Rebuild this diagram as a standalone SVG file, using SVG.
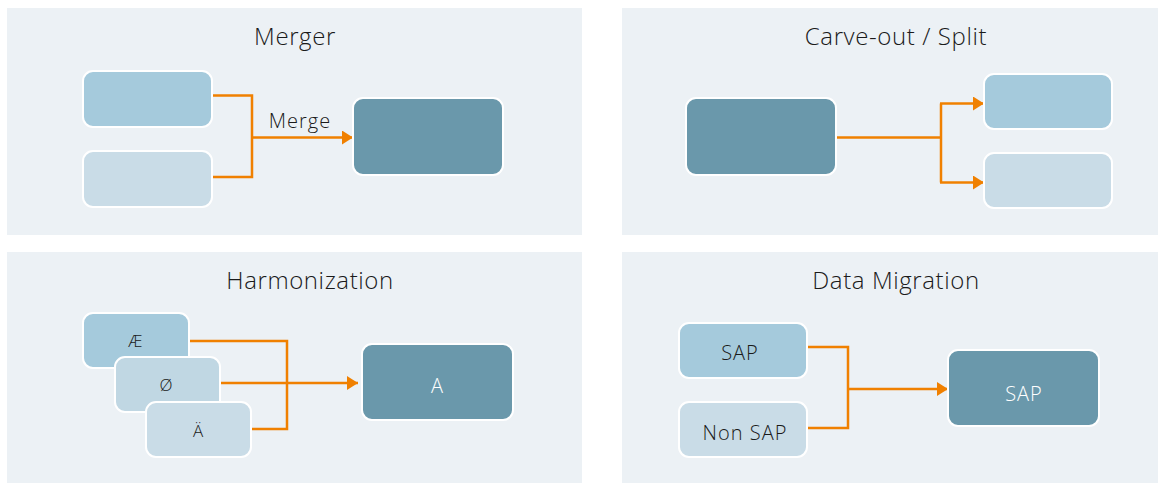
<svg xmlns="http://www.w3.org/2000/svg" width="1158" height="483" viewBox="0 0 1158 483">
<defs>
<style>
.panel{fill:#ECF1F5}
.box{stroke:#ffffff;stroke-width:2}
.c1{fill:#A5CADC}
.c2{fill:#C9DCE7}
.c2b{fill:#C0D7E3}
.c3{fill:#6A98AB}
.title{font-family:"Open Sans","Liberation Sans",sans-serif;font-size:24px;font-weight:300;letter-spacing:0.6px;fill:#1a1a1a;text-anchor:middle}
.lbl{font-family:"Open Sans","Liberation Sans",sans-serif;font-size:20px;font-weight:300;letter-spacing:1px;fill:#1a1a1a;text-anchor:middle}
.lblw{font-family:"Open Sans","Liberation Sans",sans-serif;font-size:20px;font-weight:300;letter-spacing:1px;fill:#ffffff;text-anchor:middle}
.sm{font-size:17px;letter-spacing:0}
.conn{fill:none;stroke:#F08000;stroke-width:2.5}
</style>
<marker id="arr" markerUnits="userSpaceOnUse" markerWidth="12" markerHeight="14" refX="11" refY="7" orient="auto">
<path d="M0,0 L11,7 L0,14 z" fill="#F08000"/>
</marker>
</defs>
<rect width="1158" height="483" fill="#ffffff"/>

<g id="panel-merger">
<rect class="panel" x="7" y="8" width="575" height="227"/>
<text class="title" x="295" y="45">Merger</text>
</g>
<g id="panel-carveout">
<rect class="panel" x="622" y="8" width="536" height="227"/>
<text class="title" x="896" y="45">Carve-out / Split</text>
</g>
<g id="panel-harmonization">
<rect class="panel" x="7" y="252" width="575" height="231"/>
<text class="title" x="310" y="289">Harmonization</text>
</g>
<g id="panel-migration">
<rect class="panel" x="622" y="252" width="536" height="231"/>
<text class="title" x="896" y="289">Data Migration</text>
</g>

<g id="connectors">
<path class="conn" d="M212,95.5 H252 V177 H212"/>
<path class="conn" d="M252,137.5 H353" marker-end="url(#arr)"/>
<path class="conn" d="M836,137.5 H941"/>
<path class="conn" d="M941,103.5 V182.5"/>
<path class="conn" d="M940,103.5 H984" marker-end="url(#arr)"/>
<path class="conn" d="M940,182.5 H984" marker-end="url(#arr)"/>
<path class="conn" d="M190,341 H287 V429 H252"/>
<path class="conn" d="M221,383 H358" marker-end="url(#arr)"/>
<path class="conn" d="M807,347 H848 V428 H807"/>
<path class="conn" d="M848,389 H948" marker-end="url(#arr)"/>
<text class="lbl" x="300" y="128">Merge</text>
</g>

<g id="merger-a"><rect class="box c1" x="83" y="71" width="129" height="56" rx="10"/></g>
<g id="merger-b"><rect class="box c2" x="83" y="151" width="129" height="56" rx="10"/></g>
<g id="merger-result"><rect class="box c3" x="353" y="98" width="150" height="77" rx="10"/></g>

<g id="split-source"><rect class="box c3" x="686" y="98" width="150" height="77" rx="10"/></g>
<g id="split-a"><rect class="box c1" x="984" y="74" width="128" height="55" rx="10"/></g>
<g id="split-b"><rect class="box c2" x="984" y="153" width="128" height="55" rx="10"/></g>

<g id="harm-ae"><rect class="box c1" x="83" y="313" width="106" height="55" rx="10"/><text class="lbl sm" x="135" y="347">Æ</text></g>
<g id="harm-o"><rect class="box c2b" x="115" y="357" width="105" height="55" rx="10"/><text class="lbl sm" x="166" y="391">Ø</text></g>
<g id="harm-a"><rect class="box c2" x="146" y="402" width="105" height="55" rx="10"/><text class="lbl sm" x="198" y="437">Ä</text></g>
<g id="harm-result"><rect class="box c3" x="362" y="344" width="151" height="76" rx="10"/><text class="lblw" x="437" y="393" style="letter-spacing:0">A</text></g>

<g id="mig-sap"><rect class="box c1" x="679" y="323" width="128" height="55" rx="10"/><text class="lbl" x="740" y="360">SAP</text></g>
<g id="mig-nonsap"><rect class="box c2" x="679" y="402" width="128" height="55" rx="10"/><text class="lbl" x="745" y="440">Non SAP</text></g>
<g id="mig-result"><rect class="box c3" x="948" y="350" width="151" height="76" rx="10"/><text class="lblw" x="1024" y="401">SAP</text></g>
</svg>
